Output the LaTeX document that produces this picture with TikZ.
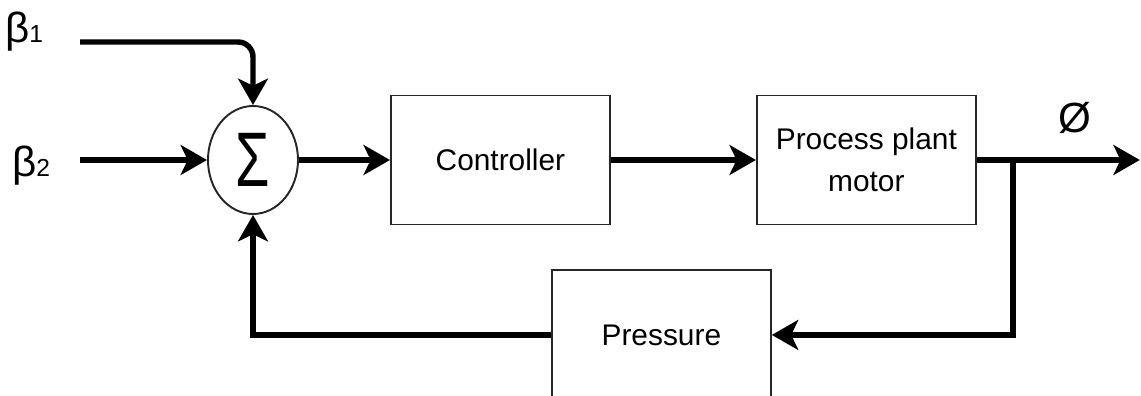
\documentclass[tikz,border=0pt]{standalone}
\usepackage{fontspec}
\setmainfont{Liberation Sans}
\usepackage{tikz}
\usetikzlibrary{shapes.geometric, arrows.meta, positioning, calc}

\begin{document}
\begin{tikzpicture}[
    node distance=1.8cm and 2.9cm,
    block/.style={rectangle, draw=black!85, line width=1.1pt, minimum width=4.38cm, minimum height=2.58cm, align=center, font=\fontsize{17}{24}\selectfont},
    sumnode/.style={ellipse, draw=black!85, line width=1.1pt, minimum width=1.8cm, minimum height=2.16cm, inner sep=0pt, font=\fontsize{44}{46}\selectfont},
    signal/.style={font=\fontsize{24}{26}\selectfont},
    arrow/.style={-{Stealth[length=15pt, width=17pt, inset=4pt]}, line width=3.1pt}
]

\useasboundingbox (0,0) rectangle (22.82,-7.92);

\node[sumnode] (sum) at (5.06,-3.2) {\scalebox{0.72}[1]{Σ}};
\node[block, right=1.82cm of sum] (controller) {Controller};
\node[block, right=2.9cm of controller] (plant) {Process plant\\motor};
\node[block, below=0.88cm of plant, xshift=-4.1cm] (pressure) {Pressure};

\coordinate (in1) at (1.6,-0.84);
\coordinate (in2) at (1.6,-3.2);
\coordinate (branch) at ($(plant.east)+(0.72,0)$);
\coordinate (output) at ($(plant.east)+(3.26,0)$);

\node[signal, anchor=base] (beta1) at (0.48,-0.86) {β{\fontsize{14}{14}\selectfont 1}};
\node[signal, anchor=base] (beta2) at (0.62,-3.54) {β{\fontsize{14}{14}\selectfont 2}};
\node[signal] (phi) at (21.5,-2.36) {Ø};

\draw[arrow, rounded corners=0.3cm] (in1) -| (sum.north);
\draw[arrow] (in2) -- (sum.west);
\draw[arrow] (sum) -- (controller);
\draw[arrow] (controller) -- (plant);
\draw[arrow] (plant) -- (output);
\draw[arrow] (branch) |- (pressure.east);
\draw[arrow] (pressure.west) -| (sum.south);

\end{tikzpicture}
\end{document}
